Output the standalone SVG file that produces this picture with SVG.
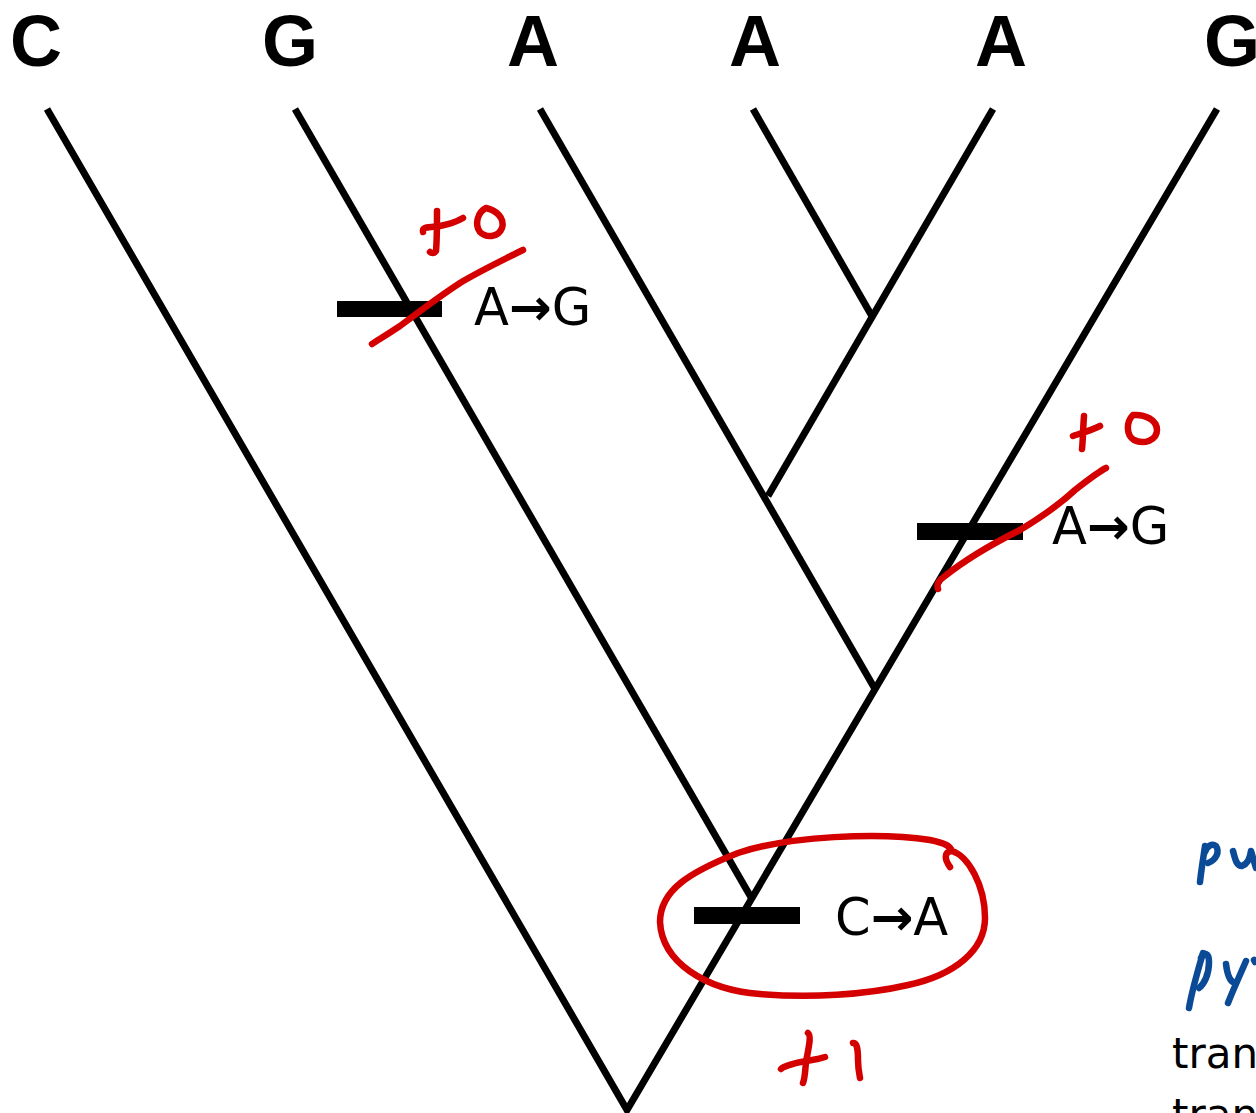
<svg xmlns="http://www.w3.org/2000/svg" width="1256" height="1113" viewBox="0 0 1256 1113">
<style>
.leaf{font-family:"Liberation Sans",Arial,sans-serif;font-weight:bold;font-size:72px;fill:#000;text-anchor:middle}
.mut{font-family:"DejaVu Sans",Verdana,sans-serif;font-size:51px;fill:#000}
.arr{font-weight:bold}
.side{font-family:"DejaVu Sans",Verdana,sans-serif;font-size:42px;fill:#000}
.br{stroke:#000;stroke-width:7;fill:none;stroke-linecap:butt}
.bar{fill:#000}
.red{stroke:#d40000;stroke-width:6.5;fill:none;stroke-linecap:round;stroke-linejoin:round}
.blue{stroke:#0b4a96;stroke-width:6.5;fill:none;stroke-linecap:round;stroke-linejoin:round}
</style>
<rect width="1256" height="1113" fill="#fff"/>
<g id="leaves">
<g id="leaf-C"><text class="leaf" x="36" y="66">C</text></g>
<g id="leaf-G1"><text class="leaf" x="290" y="66">G</text></g>
<g id="leaf-A1"><text class="leaf" x="533" y="66">A</text></g>
<g id="leaf-A2"><text class="leaf" x="755" y="66">A</text></g>
<g id="leaf-A3"><text class="leaf" x="1001" y="66">A</text></g>
<g id="leaf-G2"><text class="leaf" x="1232" y="66">G</text></g>
</g>
<g id="connectors">
<polyline class="br" stroke-linejoin="miter" points="47,109 627,1110 1217,109"/>
<line class="br" x1="295" y1="109" x2="752" y2="899"/>
<line class="br" x1="540" y1="109" x2="875" y2="689"/>
<line class="br" x1="753" y1="109" x2="873" y2="318"/>
<line class="br" x1="993" y1="109" x2="768" y2="496"/>
</g>
<g id="mutation-1">
<rect class="bar" x="337" y="301" width="105" height="16"/>
<text class="mut" x="474" y="325">A<tspan class="arr">→</tspan>G</text>
</g>
<g id="mutation-2">
<rect class="bar" x="917" y="523" width="106" height="17"/>
<text class="mut" x="1052" y="544">A<tspan class="arr">→</tspan>G</text>
</g>
<g id="mutation-3">
<rect class="bar" x="694" y="907" width="106" height="17"/>
<text class="mut" x="835" y="935">C<tspan class="arr">→</tspan>A</text>
</g>
<g id="side-text">
<text class="side" x="1172" y="1068">tran</text>
<text class="side" x="1172" y="1129">tran</text>
</g>
<g id="annotations">
<path class="red" d="M423,232 C422,226 428,228 440,226 C450,224 458,221 463,218"/>
<path class="red" d="M437,211 C437,225 437,240 436,251 C434,254 431,253 430,252"/>
<path class="red" d="M486,208 C478,212 474,224 480,232 C486,238 498,238 502,228 C505,218 496,210 486,208 Z"/>
<path class="red" d="M372,344 C378,340 385,336 400,326 C420,311 440,296 460,283 C480,271 505,259 523,250"/>
<path class="red" d="M1073,436 C1082,433 1092,430 1100,426"/>
<path class="red" d="M1084,416 C1083,428 1083,440 1082,449"/>
<path class="red" d="M1133,415 C1126,422 1126,435 1134,440 C1144,445 1157,440 1157,430 C1157,420 1145,414 1133,415 Z"/>
<path class="red" d="M938,589 C936,583 940,580 945,576 C965,560 990,545 1020,530 C1040,518 1060,504 1075,490 C1088,480 1098,472 1106,468"/>
<path class="red" d="M950,867 C945,860 943,852 952,851 C968,856 985,885 985,918 C985,950 955,975 908,985 C865,995 810,998 760,994 C705,990 662,962 660,922 C660,890 690,872 738,853 C788,836 880,832 930,840 C945,843 950,846 952,851"/>
<path class="red" d="M781,1069 C785,1065 800,1062 812,1060 C818,1059 822,1058 825,1057"/>
<path class="red" d="M808,1033 C812,1036 808,1050 806,1062 C805,1072 805,1078 803,1083"/>
<path class="red" d="M853,1043 C857,1042 858,1050 858,1060 C858,1068 859,1073 860,1078"/>
<path class="blue" d="M1205,846 C1203,860 1201,872 1200,882"/>
<path class="blue" d="M1205,852 C1207,846 1212,843 1216,846 C1220,852 1216,860 1208,863"/>
<path class="blue" d="M1233,851 C1235,858 1236,866 1242,866 C1248,864 1250,858 1251,851 L1256,868"/>
<path class="blue" d="M1203,953 C1198,970 1192,990 1189,1008"/>
<path class="blue" d="M1201,958 C1204,952 1209,952 1209,962 C1209,975 1204,984 1199,988"/>
<path class="blue" d="M1226,964 C1227,972 1229,980 1233,982"/>
<path class="blue" d="M1246,961 C1240,975 1233,990 1228,1003"/>
<path class="blue" d="M1254,960 L1255,962"/>
</g>
</svg>
